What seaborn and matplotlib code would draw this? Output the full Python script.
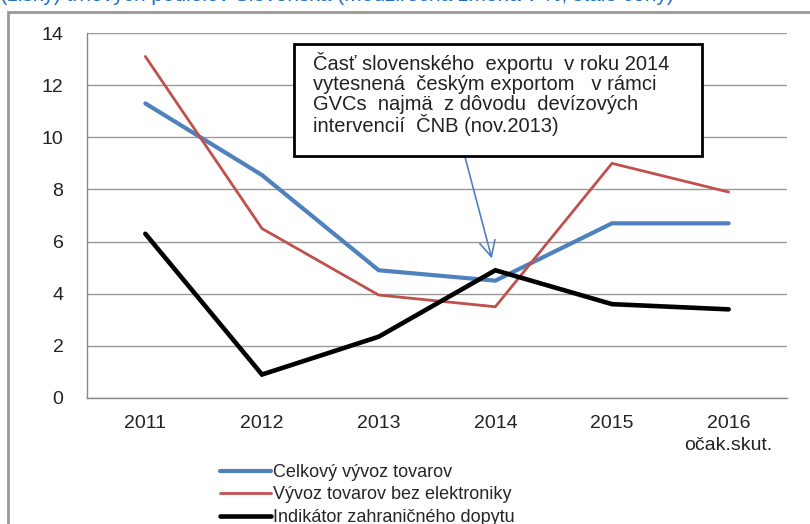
import pandas as pd
import matplotlib.pyplot as plt
import seaborn as sns
from matplotlib.lines import Line2D
from matplotlib.patches import Rectangle

years = ["2011", "2012", "2013", "2014", "2015", "2016"]
tick_labels = ["2011", "2012", "2013", "2014", "2015", "2016\nočak.skut."]
celkovy = [11.3, 8.55, 4.9, 4.5, 6.7, 6.7]
bez_elektroniky = [13.1, 6.5, 3.95, 3.5, 9.0, 7.9]
dopyt = [6.3, 0.9, 2.35, 4.9, 3.6, 3.4]
series_names = ["Celkový vývoz tovarov", "Vývoz tovarov bez elektroniky",
                "Indikátor zahraničného dopytu"]
colors = ["#4F81BD", "#C0504D", "#000000"]
widths = [3.0, 2.0, 3.3]
note = ("Časť slovenského  exportu  v roku 2014\n"
        "vytesnená  českým exportom   v rámci\n"
        "GVCs  najmä  z dôvodu  devízových\n"
        "intervencií  ČNB (nov.2013)")
title = "Straty (zisky) trhových podielov Slovenska (medziročná zmena v %, stále ceny)"

df = pd.DataFrame({
    "rok": years * 3,
    "hodnota": celkovy + bez_elektroniky + dopyt,
    "rad": [s for s in series_names for _ in years],
})

sns.set_style("white")
plt.rcParams["font.family"] = ["Liberation Sans", "DejaVu Sans"]

fig = plt.figure(figsize=(8.1, 5.24), dpi=100)
ax = fig.add_axes([87 / 810, 1 - 398 / 524, 700 / 810, 365 / 524])

sns.lineplot(data=df, x="rok", y="hodnota", hue="rad", palette=colors,
             sort=False, ax=ax, legend=False)
for line, lw in zip(ax.get_lines(), widths):
    line.set_linewidth(lw)
    line.set_solid_joinstyle("miter")

ax.set_xlim(-0.5, 5.5)
ax.set_ylim(0, 14)
ax.set_yticks(range(0, 15, 2))
ax.set_xticks(range(len(years)))
ax.set_xticklabels(tick_labels, fontsize=14, color="#222222", linespacing=1.4)
ax.set_xticks([i - 0.5 for i in range(len(years) + 1)], minor=True)
ax.tick_params(axis="x", which="major", length=0, pad=12)
ax.tick_params(axis="x", which="minor", length=5, color="#888888", width=1)
ax.tick_params(axis="y", length=5, color="#888888", labelsize=14,
               labelcolor="#222222", pad=12)
ax.set_xlabel("")
ax.set_ylabel("")
ax.grid(axis="y", color="#999999", linewidth=1)
ax.set_axisbelow(True)
for side in ["top", "right"]:
    ax.spines[side].set_visible(False)
for side in ["left", "bottom"]:
    ax.spines[side].set_color("#888888")
    ax.spines[side].set_linewidth(1)

# note box + arrow
fig.add_artist(Rectangle((294 / 810, 1 - 156 / 524), 408 / 810, 112 / 524,
                         transform=fig.transFigure, fc="white", ec="black",
                         lw=2, zorder=5))
fig.text(313 / 810, 1 - 52 / 524, note, ha="left", va="top", fontsize=14.5,
         color="#222222", linespacing=1.05, zorder=6)
ax.annotate("", xy=(2.97, 5.35), xytext=(465 / 810, 1 - 157 / 524),
            textcoords="figure fraction",
            arrowprops=dict(arrowstyle="->", color="#4F81BD", lw=1.2,
                            mutation_scale=28, shrinkA=0, shrinkB=0))

handles = [Line2D([], [], color=c, lw=lw) for c, lw in zip(colors, widths)]
fig.legend(handles, series_names, loc="upper left",
           bbox_to_anchor=(220 / 810, 1 - 464 / 524), frameon=False,
           fontsize=13, handlelength=2.8, handletextpad=0.12,
           labelspacing=0.3, borderpad=0, borderaxespad=0)

fig.add_artist(Rectangle((8 / 810, -0.1), 1.2, 1 - 12 / 524 + 0.1,
                         transform=fig.transFigure, fill=False,
                         ec="#999999", lw=2))
fig.text(-60 / 810, 1.008, title, fontsize=15, color="#1F6FC5",
         ha="left", va="center")

fig.savefig("out.png", dpi=100)
